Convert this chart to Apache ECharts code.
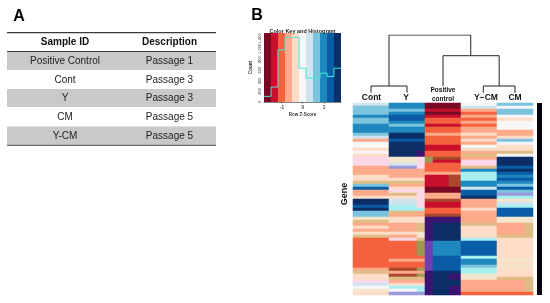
<!DOCTYPE html>
<html><head><meta charset="utf-8">
<style>html,body{margin:0;padding:0;background:#fff}#c{width:550px;height:303px}</style>
<script src="https://cdn.jsdelivr.net/npm/echarts@6/dist/echarts.min.js"></script>
</head><body><div id="c"></div>
<script>
// Table
const tableHeader = ['Sample ID', 'Description'];
const sampleIds = ['Positive Control', 'Cont', 'Y', 'CM', 'Y-CM'];
const descriptions = ['Passage 1', 'Passage 3', 'Passage 3', 'Passage 5', 'Passage 5'];

// Colour key and histogram
const keyColors = ['#7a0a24','#c8102e','#f4623f','#fcaa8b','#fddcc8','#f7f7f7','#d0e4ef','#7cc3de','#1f88bf','#0a5ca6','#0b2f66'];
const histEdges = [-1.8,-1.47,-1.15,-0.82,-0.49,-0.16,0.16,0.49,0.82,1.15,1.47,1.8];
const histCounts = [106,281,981,1219,1219,637,450,450,544,481,637];
const keyTickLabels = ['-1','0','1'];

// Heatmap: levels 0-10 = key colours, 11+ = off-key tints seen in the picture
const offKeyColors = ['#fbd8e8','#9c9a50','#3a1470','#a8f0f0','#e0bd84','#7040b0','#f3e6cc','#a84a2c','#9a9adc'];
const columnLabels = ['Cont','Y','Positive control','Y−CM','CM'];
const contCol = [6,7,7,7,8,7,7,8,8,8,7,6,3,5,5,4,5,4,11,11,11,3,3,3,4,4,15,7,9,3,3,4,10,10,9,10,7,7,17,15,3,4,3,4,15,2,2,2,2,2,2,2,2,2,2,3,15,4,4,11,6,5,17,4];
const yCol = [8,8,7,8,9,9,8,7,8,8,10,10,9,10,10,10,10,10,17,17,6,19,3,3,3,4,15,3,4,11,15,4,6,6,14,14,15,3,4,4,3,3,3,4,3,11,2,2,2,2,2,2,3,2,2,18,3,18,15,3,4,14,5,19];
const posCol = [0,0,1,0,1,2,2,1,2,2,3,2,2,2,1,1,2,2,18,1,2,2,2,3,1,1,1,1,0,0,3,3,18,1,1,2,2,18,13,13,10,10,10,10,10,10,8,8,8,8,8,9,9,9,9,9,10,10,10,10,10,10,10,10];
const ycmCol = [5,6,3,2,3,2,3,2,3,3,4,3,4,3,5,4,3,15,3,11,11,15,8,14,14,14,8,8,6,9,9,10,3,3,3,4,3,3,3,3,15,4,4,4,4,14,9,9,9,9,9,14,8,8,7,14,14,17,17,3,3,3,3,2];
const cmCol = [7,5,7,7,5,4,5,5,5,3,3,4,7,5,4,4,15,5,10,10,10,9,10,9,8,9,8,7,9,7,19,14,17,6,14,9,9,9,17,17,3,3,3,3,15,4,4,4,4,4,4,4,17,4,17,4,4,4,15,3,3,3,3,2];
// Right-hand or left-hand slivers of a column that differ from its main colour (null = same)
const yEdge = [null,null,null,null,null,null,null,null,null,null,null,null,null,null,null,null,13,13,11,11,11,11,null,null,null,null,null,null,null,11,11,11,11,11,11,null,3,3,null,null,15,15,15,17,17,15,12,12,12,12,12,null,null,null,null,12,null,12,15,null,null,14,14,null];
const posLeft = [null,null,null,null,null,null,null,null,null,null,null,null,null,null,null,null,null,null,12,12,null,null,null,null,null,null,null,null,null,null,null,null,null,null,null,null,null,null,null,13,13,13,13,13,13,13,16,16,16,16,16,16,16,16,16,16,13,13,13,13,13,13,13,13];
const posRight = [null,null,null,null,null,null,null,null,null,null,null,null,null,null,null,null,null,null,null,null,null,null,null,null,18,18,18,18,null,null,null,null,null,null,null,null,null,null,null,null,null,null,null,null,null,null,null,null,null,null,null,null,null,null,null,null,null,13,13,null,null,13,13,13];
const cmEdge = [null,null,null,null,null,null,null,null,null,null,null,null,null,null,null,null,null,null,null,null,null,null,null,null,null,null,null,null,null,null,null,null,null,null,null,null,null,null,null,null,15,15,15,15,15,null,null,null,null,null,null,null,null,null,null,null,null,null,null,15,15,15,15,null];

// Dendrogram: x in column units, y in merge height
const mergeCY = [[0,0],[0,1.16],[1,1.16],[1,0]];
const mergeYcmCm = [[3.12,0],[3.12,1.16],[4,1.16],[4,0]];
const mergePos = [[2,1.16],[2,6.41],[3.56,6.41],[3.56,1.16]];
const mergeRoot = [[0.5,1.16],[0.5,10],[2.77,10],[2.77,6.41]];
const sideBarValues = [1];

const palette = keyColors.concat(offKeyColors);
const SUB = 9;
const baseCols = [contCol, yCol, posCol, ycmCol, cmCol];
const heatData = [];
baseCols.forEach((col, c) => col.forEach((v, r) => {
  for (let s = 0; s < SUB; s++) {
    let lv = v;
    if (c === 1 && s >= 7 && yEdge[r] !== null) lv = yEdge[r];
    if (c === 2 && s <= 1 && posLeft[r] !== null) lv = posLeft[r];
    if (c === 2 && s >= 6 && posRight[r] !== null) lv = posRight[r];
    if (c === 4 && s >= 7 && cmEdge[r] !== null) lv = cmEdge[r];
    heatData.push([c * SUB + s, r, lv]);
  }
}));
const subCats = Array.from({length: SUB * 5}, (_, i) => i);
const rowCats = contCol.map((_, i) => i);

const F = '"Liberation Sans", Arial, sans-serif';
const txt = (x, y, text, size, bold, color, extra) => Object.assign({
  type: 'text', x, y, silent: true,
  style: Object.assign({text, fontFamily: F, fontSize: size, fontWeight: bold ? 'bold' : 'normal', fill: color || '#222', align: 'center', verticalAlign: 'middle'})
}, extra || {});
const rect = (x, y, w, h, fill) => ({type: 'rect', silent: true, z: -1, shape: {x, y, width: w, height: h}, style: {fill}});

const TX = 7, TW = 209, C1 = 65, C2 = 169.5;
const rowTops = [52, 70.5, 89, 108, 126.5];
const rowMid = [61, 80, 98.5, 117, 136];
const graphics = [
  txt(19, 17, 'A', 16, true, '#000'),
  txt(257, 16, 'B', 16, true, '#000'),
  rect(TX, 32, TW, 1.2, '#3a3a3a'),
  rect(TX, 51, TW, 1.2, '#3a3a3a'),
  rect(TX, 144.5, TW, 1.2, '#3a3a3a'),
  txt(C1, 42, tableHeader[0], 10, true, '#111'),
  txt(C2, 42, tableHeader[1], 10, true, '#111'),
  txt(345, 194, 'Gene', 9, true, '#111', {rotation: Math.PI / 2}),
  txt(371.5, 97.5, columnLabels[0], 8.5, true, '#111'),
  txt(406, 97.5, columnLabels[1], 8.5, true, '#111'),
  txt(443, 90.5, 'Positive', 6.5, true, '#111'),
  txt(443, 99.5, 'control', 6.5, true, '#111'),
  txt(486, 97.5, columnLabels[3], 8.5, true, '#111'),
  txt(515, 97.5, columnLabels[4], 8.5, true, '#111'),
  txt(282, 107.5, keyTickLabels[0], 4.5, true, '#333'),
  txt(302.7, 107.5, keyTickLabels[1], 4.5, true, '#333'),
  txt(324, 107.5, keyTickLabels[2], 4.5, true, '#333')
];
sampleIds.forEach((s, i) => {
  if (i % 2 === 0) graphics.push(rect(TX, rowTops[i], TW, 18, '#c9c9c9'));
  graphics.push(txt(C1, rowMid[i], s, 10, false, '#222'));
  graphics.push(txt(C2, rowMid[i], descriptions[i], 10, false, '#222'));
});

const dendro = (data) => ({
  type: 'line', xAxisIndex: 2, yAxisIndex: 1, data, symbol: 'none', silent: true,
  lineStyle: {color: '#222', width: 1}, animation: false
});

const chart = echarts.init(document.getElementById('c'), null, {renderer: 'canvas'});
chart.setOption({
  animation: false,
  backgroundColor: '#fff',
  title: {text: 'Color Key and Histogram', left: 302.5, top: 28, padding: 0, textAlign: 'center',
    textStyle: {fontFamily: F, fontSize: 5.5, fontWeight: 'bold', color: '#222'}},
  graphic: graphics,
  visualMap: {type: 'piecewise', show: false, seriesIndex: 0, dimension: 2,
    pieces: palette.map((color, i) => ({value: i, color}))},
  grid: [
    {left: 264, top: 33, width: 77, height: 69},
    {left: 353, top: 35, width: 180, height: 57.7},
    {left: 353, top: 103, width: 180, height: 192},
    {left: 537, top: 103, width: 5, height: 192}
  ],
  xAxis: [
    {type: 'value', gridIndex: 0, min: -1.8, max: 1.8, name: 'Row Z-Score', nameLocation: 'middle', nameGap: 10,
      nameTextStyle: {fontFamily: F, fontSize: 4.5, fontWeight: 'bold', color: '#333'},
      splitLine: {show: false},
      axisLine: {lineStyle: {color: '#333', width: 0.6}},
      axisTick: {length: 1.5, lineStyle: {color: '#333', width: 0.6}, customValues: [-1, 0, 1]},
      axisLabel: {show: false}},
    {type: 'category', gridIndex: 0, data: keyColors.map((_, i) => i), show: false},
    {type: 'value', gridIndex: 1, min: -0.5, max: 4.5, show: false},
    {type: 'category', gridIndex: 2, data: subCats, show: false},
    {type: 'category', gridIndex: 3, data: ['side'], show: false}
  ],
  yAxis: [
    {type: 'value', gridIndex: 0, min: 0, max: 1300, interval: 200, name: 'Count', nameLocation: 'middle', nameGap: 11,
      nameTextStyle: {fontFamily: F, fontSize: 4.5, fontWeight: 'bold', color: '#333'},
      splitLine: {show: false},
      axisLine: {show: true, lineStyle: {color: '#333', width: 0.6}},
      axisTick: {show: true, length: 1.5, lineStyle: {color: '#333', width: 0.6}},
      axisLabel: {fontFamily: F, fontSize: 4, rotate: 90, margin: 2.5, color: '#333'}},
    {type: 'value', gridIndex: 1, min: 0, max: 10, show: false},
    {type: 'category', gridIndex: 2, data: rowCats, inverse: true, show: false},
    {type: 'value', gridIndex: 3, min: 0, max: 1, show: false}
  ],
  series: [
    {type: 'heatmap', xAxisIndex: 3, yAxisIndex: 2, data: heatData, silent: true, progressive: 0,
      itemStyle: {borderWidth: 0}, emphasis: {disabled: true}},
    {type: 'bar', xAxisIndex: 1, yAxisIndex: 0, barWidth: '100%', silent: true,
      data: keyColors.map(() => 1300),
      itemStyle: {color: p => keyColors[p.dataIndex]}},
    {type: 'line', xAxisIndex: 0, yAxisIndex: 0, symbol: 'none', silent: true, step: 'end', z: 5,
      data: histEdges.map((e, i) => [e, histCounts[Math.min(i, histCounts.length - 1)]]),
      lineStyle: {color: '#45e6d6', width: 1}},
    dendro(mergeCY), dendro(mergeYcmCm), dendro(mergePos), dendro(mergeRoot),
    {type: 'bar', xAxisIndex: 4, yAxisIndex: 3, barWidth: '100%', silent: true, data: sideBarValues,
      itemStyle: {color: '#05050f'}}
  ]
});
</script></body></html>
